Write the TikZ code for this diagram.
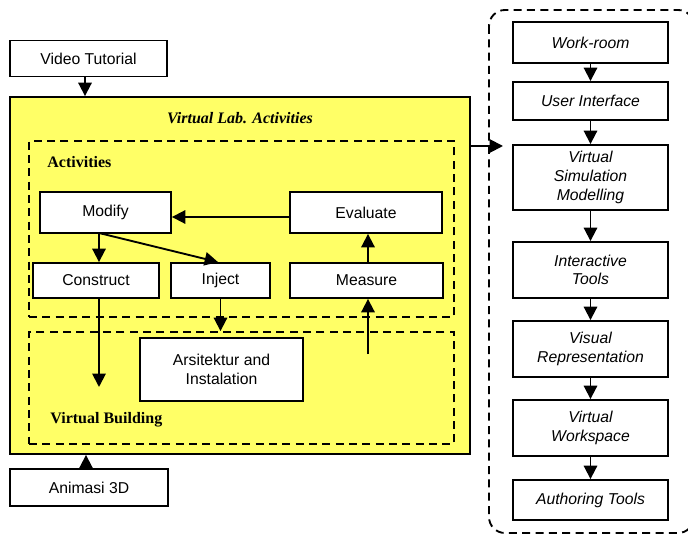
\documentclass[tikz,border=0pt]{standalone}
\usepackage{fontspec}
\setmainfont{Liberation Sans}
\newfontfamily\serfont{Liberation Serif}
\usetikzlibrary{arrows.meta}

\definecolor{labyellow}{RGB}{255,255,102}
\tikzset{every picture/.style={line width=1.4pt}}
\tikzset{
	blk/.style={draw, fill=white, inner sep=0pt, align=center, font=\fontsize{11.8}{14}\selectfont},
	rblk/.style={blk, minimum width=155*0.75pt, font=\fontsize{11.8}{14}\selectfont\itshape},
	arr/.style={-{Triangle[length=10pt,width=10pt]}},
	frame/.style={draw, dash pattern=on 6pt off 4pt, inner sep=0pt},
	ttl/.style={font=\serfont\bfseries\fontsize{12}{14}\selectfont}
}

\begin{document}
\begin{tikzpicture}[x=0.75pt,y=0.75pt,yscale=-1,xscale=1]
	\useasboundingbox (0,0) rectangle (688,538);

	%Shape: Rectangle [id:lab]
	\node [draw, fill=labyellow, minimum width=460*0.75pt, minimum height=357*0.75pt, inner sep=0pt] (lab) at (240,275.5) {};
	%Shape: Rectangle [id:act]
	\node [frame, minimum width=425*0.75pt, minimum height=176*0.75pt] (act) at (241.5,229) {};
	%Shape: Rectangle [id:build]
	\node [frame, minimum width=425*0.75pt, minimum height=112*0.75pt] (build) at (241.5,388) {};
	%Shape: Rounded Rect [id:tools]
	\draw [dash pattern=on 6pt off 4pt, rounded corners=12pt] (489,10) rectangle (694,533) ;

	% Text Node
	\node [blk, minimum width=157*0.75pt, minimum height=36*0.75pt] (video) at (88.5,58.5) {Video Tutorial};
	% Text Node
	\node [blk, minimum width=158*0.75pt, minimum height=37*0.75pt] (anim) at (89,487.5) {Animasi 3D};
	% Text Node
	\node [ttl, font=\serfont\bfseries\itshape\fontsize{12}{14}\selectfont] (labtitle) at (240,118) {Virtual Lab. Activities};
	% Text Node
	\node [ttl, anchor=west] (acttitle) at (42,162) {Activities};
	% Text Node
	\node [ttl, anchor=west] (buildtitle) at (45,420) {Virtual Building};
	% Text Node
	\node [blk, minimum width=131*0.75pt, minimum height=41*0.75pt] (modify) at (105.5,212.5) {Modify};
	% Text Node
	\node [blk, minimum width=152*0.75pt, minimum height=41*0.75pt] (evaluate) at (366,212.5) {Evaluate};
	% Text Node
	\node [blk, minimum width=126*0.75pt, minimum height=35*0.75pt] (construct) at (96,280.5) {\raisebox{-2pt}{Construct}};
	% Text Node
	\node [blk, minimum width=99*0.75pt, minimum height=35*0.75pt] (inject) at (220.5,280.5) {\raisebox{-2pt}{Inject}};
	% Text Node
	\node [blk, minimum width=153*0.75pt, minimum height=35*0.75pt] (measure) at (366.5,280.5) {\raisebox{-2pt}{Measure}};
	% Text Node
	\node [blk, minimum width=163*0.75pt, minimum height=63*0.75pt] (arsi) at (221.5,369.5) {Arsitektur and\\Instalation};

	% Text Node
	\node [rblk, minimum height=41*0.75pt] (work) at (590.5,42.5) {Work-room};
	% Text Node
	\node [rblk, minimum height=38*0.75pt] (ui) at (590.5,101) {User Interface};
	% Text Node
	\node [rblk, minimum height=65*0.75pt] (vsm) at (590.5,177.5) {Virtual\\Simulation\\Modelling};
	% Text Node
	\node [rblk, minimum height=56*0.75pt] (itools) at (590.5,270) {Interactive\\Tools};
	% Text Node
	\node [rblk, minimum height=56*0.75pt] (vrep) at (590.5,349) {Visual\\Representation};
	% Text Node
	\node [rblk, minimum height=56*0.75pt] (vws) at (590.5,428) {Virtual\\Workspace};
	% Text Node
	\node [rblk, minimum height=40*0.75pt] (auth) at (590.5,500) {Authoring Tools};

	\coordinate (mfork) at (99,233);
	\coordinate (cend) at (99,387);
	\coordinate (mstart) at (368,354);
	\coordinate (lout) at (503,146);

	%Straight Lines
	\draw [arr] (video.south -| 85,0) -- (85,0 |- lab.north) ;
	\draw [arr] (anim.north -| 86,0) -- (86,0 |- lab.south) ;
	\draw [arr] (evaluate.west |- 0,217) -- (modify.east |- 0,217) ;
	\draw [arr] (mfork) -- (mfork |- construct.north) ;
	\draw [arr] (mfork) -- (inject.north -| 218,0) ;
	\draw [arr] (construct.south -| cend) -- (cend) ;
	\draw [arr] (inject.south) -- (inject.south |- build.north) ;
	\draw [arr] (mstart) -- (mstart |- measure.south) ;
	\draw [arr] (measure.north -| mstart) -- (mstart |- evaluate.south) ;
	\draw [arr] (lab.east |- lout) -- (lout) ;
	\foreach \a/\b in {work/ui, ui/vsm, vsm/itools, itools/vrep, vrep/vws, vws/auth}
		\draw [arr] (\a.south) -- (\b.north) ;

\end{tikzpicture}
\end{document}
